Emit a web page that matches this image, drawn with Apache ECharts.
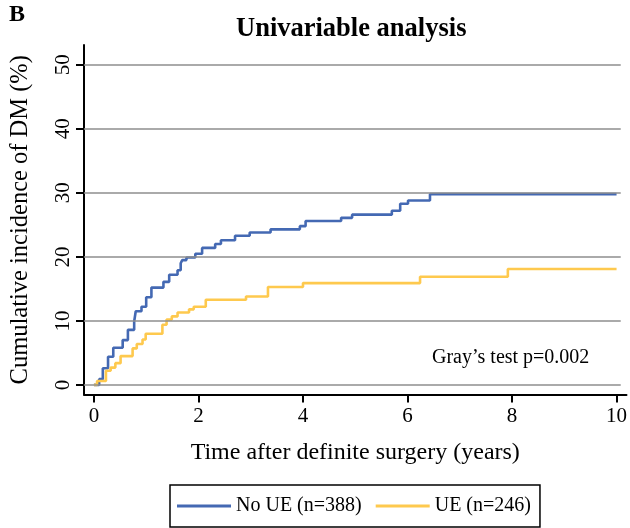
<!DOCTYPE html>
<html>
<head>
<meta charset="utf-8">
<script src="https://cdn.jsdelivr.net/npm/echarts@6/dist/echarts.min.js"></script>
<style>html,body{margin:0;padding:0;background:#fff}#c{width:630px;height:528px}</style>
</head>
<body>
<div id="c"></div>
<script>
const xTicks = [0, 2, 4, 6, 8, 10];
const yTicks = [0, 10, 20, 30, 40, 50];
const noUE_t = [0, 0.1, 0.17, 0.27, 0.37, 0.55, 0.65, 0.77, 0.8, 0.91, 1.0, 1.1, 1.33, 1.44, 1.6, 1.66, 1.69, 1.77, 1.94, 2.07, 2.32, 2.43, 2.70, 2.98, 3.38, 3.94, 4.05, 4.73, 4.94, 5.70, 5.86, 6.01, 6.43, 10];
const noUE_v = [0, 0.9, 2.6, 4.4, 5.8, 7.0, 8.6, 9.9, 11.5, 12.2, 13.7, 15.2, 16.1, 17.2, 17.9, 19.0, 19.5, 19.9, 20.5, 21.4, 22.0, 22.6, 23.3, 23.8, 24.3, 24.8, 25.6, 26.1, 26.6, 27.2, 28.3, 28.8, 29.8, 29.8];
const ue_t = [0, 0.06, 0.23, 0.32, 0.41, 0.51, 0.74, 0.82, 0.93, 0.99, 1.31, 1.39, 1.49, 1.60, 1.82, 1.91, 2.14, 2.91, 3.33, 4.0, 6.24, 7.92, 10];
const ue_v = [0, 0.6, 2.2, 2.7, 3.4, 4.5, 5.7, 6.4, 7.1, 8.0, 9.4, 10.2, 10.7, 11.3, 11.8, 12.2, 13.3, 13.8, 15.3, 15.9, 16.9, 18.1, 18.1];
const seriesNames = ['No UE (n=388)', 'UE (n=246)'];
const titleText = 'Univariable analysis';
const panelLabel = 'B';
const xName = 'Time after definite surgery (years)';
const yName = 'Cumulative incidence of DM (%)';
const noteText = 'Gray\u2019s test p=0.002';

const X_MIN = -0.19, X_MAX = 10.19, GRID_END = 10.08;
const Y_MIN = -1.5, Y_MAX = 53.1;
const FONT = '"Liberation Serif", "Times New Roman", serif';
const BLUE = '#4469b3', YELLOW = '#fec94e';

const zip = (a, b) => a.map((v, i) => [v, b[i]]);
const chart = echarts.init(document.getElementById('c'), null, {renderer: 'canvas'});
chart.setOption({
  animation: false,
  backgroundColor: '#fff',
  textStyle: {fontFamily: FONT, color: '#000'},
  title: {
    text: titleText, left: 231, top: 11,
    textStyle: {fontFamily: FONT, fontWeight: 'bold', fontSize: 26.5, color: '#000'}
  },
  graphic: [
    {type: 'text', left: 9, top: 3, style: {text: panelLabel, font: 'bold 24px ' + FONT, fill: '#000'}},
    {type: 'text', left: 432, top: 348, style: {text: noteText, font: '20px ' + FONT, fill: '#000'}}
  ],
  grid: {left: 81, right: 3, top: 45, bottom: 133.5, containLabel: false},
  legend: {
    data: seriesNames, left: 170, top: 485,
    orient: 'horizontal', icon: 'rect', itemWidth: 54, itemHeight: 3, itemGap: 14,
    borderColor: '#000', borderWidth: 1.5, padding: [11, 9, 11, 7],
    textStyle: {fontFamily: FONT, fontSize: 20, color: '#000'}
  },
  xAxis: {
    type: 'value', min: X_MIN, max: X_MAX,
    name: xName, nameLocation: 'middle', nameGap: 46,
    nameTextStyle: {fontFamily: FONT, fontSize: 24, color: '#000'},
    axisLine: {show: true, onZero: false, lineStyle: {color: '#000', width: 2}},
    axisTick: {show: true, customValues: xTicks, length: 8, lineStyle: {color: '#000', width: 2}},
    axisLabel: {customValues: xTicks, fontFamily: FONT, fontSize: 21, color: '#000', margin: 11},
    splitLine: {show: false}
  },
  yAxis: {
    type: 'value', min: Y_MIN, max: Y_MAX,
    name: yName, nameLocation: 'middle', nameGap: 51,
    nameTextStyle: {fontFamily: FONT, fontSize: 24.5, color: '#000'},
    axisLine: {show: true, onZero: false, lineStyle: {color: '#000', width: 2}},
    axisTick: {show: true, customValues: yTicks, length: 8, lineStyle: {color: '#000', width: 2}},
    axisLabel: {customValues: yTicks, rotate: 90, fontFamily: FONT, fontSize: 21, color: '#000', margin: 10},
    splitLine: {show: false}
  },
  series: [
    {
      name: '__grid', type: 'line', data: [], z: 1, silent: true,
      markLine: {
        silent: true, symbol: 'none', label: {show: false},
        lineStyle: {color: '#8e8e8e', width: 1.5, type: 'solid'},
        data: yTicks.map(v => [{coord: [X_MIN, v]}, {coord: [GRID_END, v]}])
      }
    },
    {
      name: seriesNames[0], type: 'line', step: 'end', showSymbol: false, symbol: 'none', z: 3,
      data: zip(noUE_t, noUE_v), color: BLUE,
      lineStyle: {color: BLUE, width: 2.6}, itemStyle: {color: BLUE}
    },
    {
      name: seriesNames[1], type: 'line', step: 'end', showSymbol: false, symbol: 'none', z: 3,
      data: zip(ue_t, ue_v), color: YELLOW,
      lineStyle: {color: YELLOW, width: 2.6}, itemStyle: {color: YELLOW}
    }
  ]
});
</script>
</body>
</html>
